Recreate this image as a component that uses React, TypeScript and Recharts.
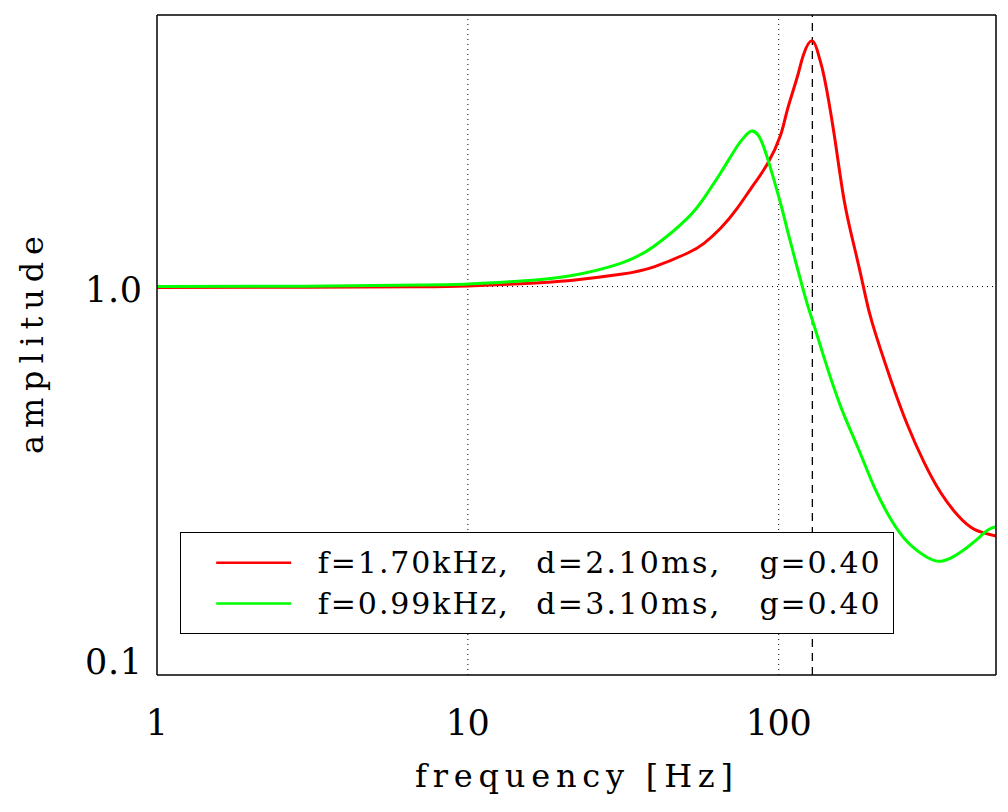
import React from "react";
import { LineChart, Line, XAxis, YAxis, ReferenceLine, Legend } from "recharts";

const FONT = "DejaVu Serif";

// values (frequency in Hz, amplitude)
const redFreq = [1, 3, 7, 10, 14.8, 21.4, 31, 39.7, 50.8, 57.5, 65, 73.6, 81.5, 92, 101.5, 106.6, 114.8, 120, 128.3, 135, 140, 150.6, 162.3, 175, 188.3, 200, 229.6, 259.6, 293.8, 332.5, 376, 426, 500];
const redAmp = [0.995, 0.996, 0.998, 1.003, 1.017, 1.037, 1.075, 1.124, 1.218, 1.292, 1.412, 1.592, 1.79, 2.07, 2.46, 2.85, 3.467, 3.94, 4.29, 3.89, 3.467, 2.48, 1.67, 1.266, 0.979, 0.805, 0.574, 0.44, 0.352, 0.294, 0.258, 0.237, 0.228];

const greenFreq = [1, 3, 7, 10, 14.8, 21.4, 31, 39.7, 50.8, 57.5, 65, 73.6, 78, 81.5, 86, 92, 101.5, 106.6, 120.7, 128.3, 140, 158.4, 180, 202.8, 230, 259.6, 300, 336.7, 380, 426, 470, 500];
const greenAmp = [1.0, 1.002, 1.009, 1.015, 1.033, 1.066, 1.147, 1.27, 1.498, 1.69, 1.96, 2.3, 2.44, 2.51, 2.45, 2.14, 1.631, 1.398, 0.962, 0.82, 0.655, 0.49, 0.384, 0.305, 0.251, 0.22, 0.201, 0.1965, 0.2057, 0.2204, 0.236, 0.241];

const xLabels = [1, 10, 100];
const yLabels = [0.1, 1];
const xMinor = [2, 3, 4, 5, 6, 7, 8, 9, 20, 30, 40, 50, 60, 70, 80, 90, 200, 300, 400];
const yMinor = [0.2, 0.3, 0.4, 0.5, 0.6, 0.7, 0.8, 0.9, 2, 3, 4];
const xGrid = [10, 100];
const yGrid = [1];
const markerFreq = 128.3;

const X_DOMAIN = [1, 500];
const Y_DOMAIN = [0.1, 5];

const series = [
  { name: "f=1.70kHz, d=2.10ms, g=0.40", color: "#ff0000", freq: redFreq, amp: redAmp },
  { name: "f=0.99kHz, d=3.10ms, g=0.40", color: "#00ff00", freq: greenFreq, amp: greenAmp },
];

const zip = (f: number[], a: number[]) => f.map((v, i) => ({ f: v, a: a[i] }));

const XTick = (props: any) => {
  const { x, y, payload } = props;
  const s = String(payload.value);
  return (
    <text
      x={x}
      y={y + 60}
      textAnchor="middle"
      fontFamily={FONT}
      fontSize={35}
      fill="#000"
      textLength={s.length > 1 ? s.length * 22 : undefined}
      lengthAdjust="spacing"
    >
      {s}
    </text>
  );
};

const YTick = (props: any) => {
  const { x, y, payload } = props;
  const v = payload.value as number;
  const dy = v === yLabels[0] ? -1 : 15;
  return (
    <text
      x={x - 15}
      y={y + dy}
      textAnchor="end"
      fontFamily={FONT}
      fontSize={35}
      fill="#000"
      textLength={57}
      lengthAdjust="spacing"
    >
      {v.toFixed(1)}
    </text>
  );
};

const XTitle = () => (
  <text x={407} y={778.7} fontFamily={FONT} fontSize={32} fill="#000" textLength={318} lengthAdjust="spacing">
    frequency [Hz]
  </text>
);

const YTitle = () => (
  <text
    x={35}
    y={337}
    transform="rotate(-90, 35, 337)"
    textAnchor="middle"
    fontFamily={FONT}
    fontSize={32}
    fill="#000"
    textLength={218}
    lengthAdjust="spacing"
  >
    amplitude
  </text>
);

// legend text is split in three columns like the original
const partX = [136.8, 355.2, 578.5];
const partW = [190, 183, 120];

const LegendBox = () => (
  <div
    style={{
      width: 714,
      height: 102,
      border: "1.5px solid #000",
      background: "#fff",
      boxSizing: "border-box",
    }}
  >
    <svg width={711} height={99} style={{ display: "block" }}>
      {series.map((s, i) => {
        const parts = s.name.split(" ");
        const lineY = 29.8 + i * 40.7;
        const textY = 39.8 + i * 41;
        return (
          <g key={s.name}>
            <line x1={35.2} x2={110.2} y1={lineY} y2={lineY} stroke={s.color} strokeWidth={2.6} />
            {parts.map((p, j) => (
              <text
                key={j}
                x={partX[j]}
                y={textY}
                fontFamily={FONT}
                fontSize={30}
                fill="#000"
                textLength={partW[j]}
                lengthAdjust="spacing"
              >
                {p}
              </text>
            ))}
          </g>
        );
      })}
    </svg>
  </div>
);

const axisStroke = { stroke: "#000", strokeWidth: 1.5 };
const tickStroke = { stroke: "#000", strokeWidth: 1.3 };

export default function App() {
  return (
    <LineChart width={1000} height={804} margin={{ top: 7, right: 12, bottom: 137, left: 149 }}>
      <XAxis
        xAxisId="x"
        dataKey="f"
        type="number"
        scale="log"
        domain={X_DOMAIN}
        allowDataOverflow
        ticks={xLabels}
        interval={0}
        mirror
        height={1}
        tickSize={0}
        tickMargin={0}
        tickLine={false}
        axisLine={axisStroke}
        tick={<XTick />}
        label={{ content: () => <XTitle /> }}
      />
      <XAxis
        xAxisId="xb"
        dataKey="f"
        type="number"
        scale="log"
        domain={X_DOMAIN}
        allowDataOverflow
        ticks={xMinor}
        interval={0}
        mirror
        height={1}
        tickSize={10}
        tickLine={tickStroke}
        axisLine={false}
        tick={false}
      />
      <XAxis
        xAxisId="xt"
        orientation="top"
        dataKey="f"
        type="number"
        scale="log"
        domain={X_DOMAIN}
        allowDataOverflow
        ticks={xMinor}
        interval={0}
        mirror
        height={1}
        tickSize={10}
        tickLine={tickStroke}
        axisLine={axisStroke}
        tick={false}
      />
      <YAxis
        yAxisId="y"
        type="number"
        scale="log"
        domain={Y_DOMAIN}
        allowDataOverflow
        ticks={yLabels}
        interval={0}
        mirror
        width={1}
        tickSize={0}
        tickMargin={0}
        tickLine={false}
        axisLine={axisStroke}
        tick={<YTick />}
        label={{ content: () => <YTitle /> }}
      />
      <YAxis
        yAxisId="yl"
        type="number"
        scale="log"
        domain={Y_DOMAIN}
        allowDataOverflow
        ticks={yMinor}
        interval={0}
        mirror
        width={1}
        tickSize={10}
        tickLine={tickStroke}
        axisLine={false}
        tick={false}
      />
      <YAxis
        yAxisId="yr"
        orientation="right"
        type="number"
        scale="log"
        domain={Y_DOMAIN}
        allowDataOverflow
        ticks={yMinor}
        interval={0}
        mirror
        width={1}
        tickSize={10}
        tickLine={tickStroke}
        axisLine={axisStroke}
        tick={false}
      />
      {xGrid.map((v) => (
        <ReferenceLine key={"gx" + v} xAxisId="x" yAxisId="y" x={v} stroke="#000" strokeWidth={1} strokeDasharray="1 4" />
      ))}
      {yGrid.map((v) => (
        <ReferenceLine key={"gy" + v} xAxisId="x" yAxisId="y" y={v} stroke="#000" strokeWidth={1} strokeDasharray="1 4" />
      ))}
      <ReferenceLine xAxisId="x" yAxisId="y" x={markerFreq} stroke="#000" strokeWidth={1.3} strokeDasharray="8 6" />
      {series.map((s) => (
        <Line
          key={s.name}
          xAxisId="x"
          yAxisId="y"
          data={zip(s.freq, s.amp)}
          dataKey="a"
          name={s.name}
          type="natural"
          stroke={s.color}
          strokeWidth={3}
          dot={false}
          activeDot={false}
          isAnimationActive={false}
        />
      ))}
      <Legend
        layout="vertical"
        align="center"
        verticalAlign="middle"
        content={() => <LegendBox />}
        wrapperStyle={{ left: 172, top: 524, width: 714, height: 102 }}
      />
    </LineChart>
  );
}
